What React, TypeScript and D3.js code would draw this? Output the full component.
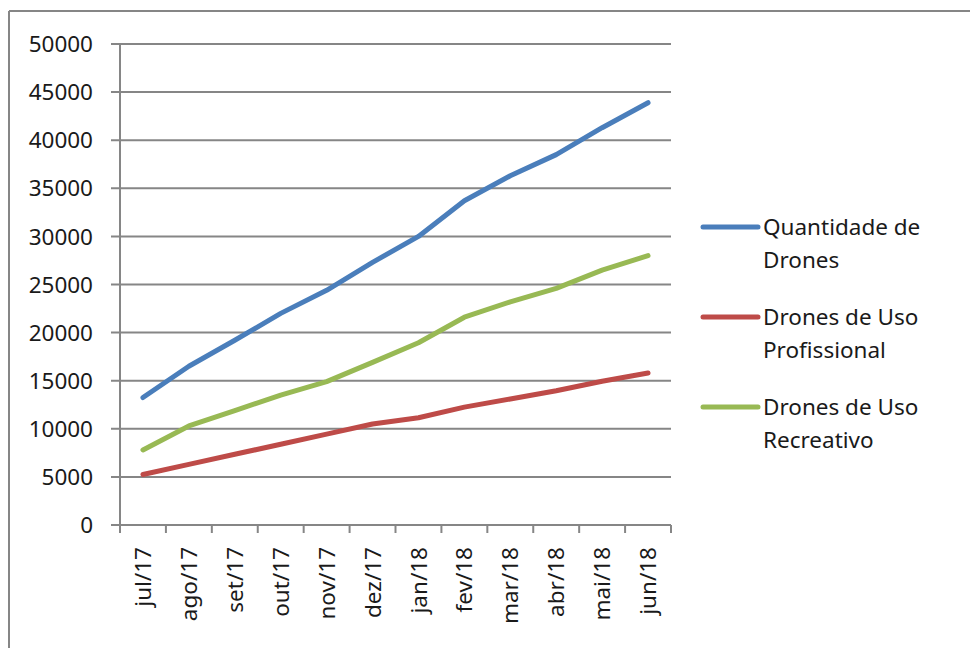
import * as d3 from "d3";

const months = ["jul/17", "ago/17", "set/17", "out/17", "nov/17", "dez/17", "jan/18", "fev/18", "mar/18", "abr/18", "mai/18", "jun/18"];
const quantidade = [13250, 16500, 19200, 22000, 24400, 27300, 30000, 33700, 36300, 38500, 41300, 43900];
const profissional = [5250, 6300, 7350, 8400, 9450, 10500, 11150, 12250, 13100, 13950, 14950, 15800];
const recreativo = [7800, 10300, 11900, 13500, 14900, 16900, 18950, 21600, 23200, 24600, 26500, 28000];
const yTicks = [0, 5000, 10000, 15000, 20000, 25000, 30000, 35000, 40000, 45000, 50000];

const series = [
  { name: ["Quantidade de", "Drones"], values: quantidade, color: "#4A7EBB" },
  { name: ["Drones de Uso", "Profissional"], values: profissional, color: "#BE4B48" },
  { name: ["Drones de Uso", "Recreativo"], values: recreativo, color: "#98B954" },
];

const W = 970;
const H = 648;
const FONT = "'Noto Sans', 'Open Sans', sans-serif";
const GRID = "#868686";

export default function App() {
  const x = d3.scaleBand<string>().domain(months).range([120, 671]);
  const y = d3.scaleLinear().domain([0, 50000]).range([525, 44]);
  const line = d3
    .line<number>()
    .x((_, i) => (x(months[i]) ?? 0) + x.bandwidth() / 2)
    .y((d) => y(d));

  const tickXs = months.map((m) => x(m) ?? 0).concat([671]);

  return (
    <svg width={W} height={H} style={{ position: "absolute", left: 0, top: 0, display: "block", background: "#fff" }}>
      {/* outer frame */}
      <line x1={9} x2={W} y1={11} y2={11} stroke={GRID} strokeWidth={2} />
      <line x1={9} x2={9} y1={11} y2={H} stroke={GRID} strokeWidth={2} />

      {/* gridlines + y ticks */}
      {yTicks.map((t) => (
        <g key={t}>
          <line x1={111} x2={671} y1={y(t)} y2={y(t)} stroke={GRID} strokeWidth={2} />
          <text x={93} y={y(t)} dy="0.36em" textAnchor="end" fontFamily={FONT} fontSize={22.5} fill="#1a1a1a">
            {t}
          </text>
        </g>
      ))}

      {/* y axis */}
      <line x1={120} x2={120} y1={44} y2={533} stroke={GRID} strokeWidth={2} />

      {/* x ticks */}
      {tickXs.map((tx, i) => (
        <line key={i} x1={tx} x2={tx} y1={525} y2={533} stroke={GRID} strokeWidth={2} />
      ))}

      {/* x labels */}
      {months.map((m) => {
        const cx = (x(m) ?? 0) + x.bandwidth() / 2;
        return (
          <text
            key={m}
            transform={`translate(${cx},547) rotate(-90)`}
            textAnchor="end"
            dy="0.36em"
            fontFamily={FONT}
            fontSize={22.5}
            fill="#1a1a1a"
          >
            {m}
          </text>
        );
      })}

      {/* lines */}
      {series.map((s) => (
        <path
          key={s.color}
          d={line(s.values) ?? ""}
          fill="none"
          stroke={s.color}
          strokeWidth={5}
          strokeLinecap="round"
          strokeLinejoin="round"
        />
      ))}

      {/* legend */}
      {series.map((s, i) => {
        const ly = 227 + i * 90;
        return (
          <g key={i}>
            <line x1={703} x2={758} y1={ly} y2={ly} stroke={s.color} strokeWidth={5} strokeLinecap="round" />
            {s.name.map((t, j) => (
              <text key={j} x={763} y={ly + j * 33} dy="0.36em" fontFamily={FONT} fontSize={22.5} fill="#1a1a1a">
                {t}
              </text>
            ))}
          </g>
        );
      })}
    </svg>
  );
}
